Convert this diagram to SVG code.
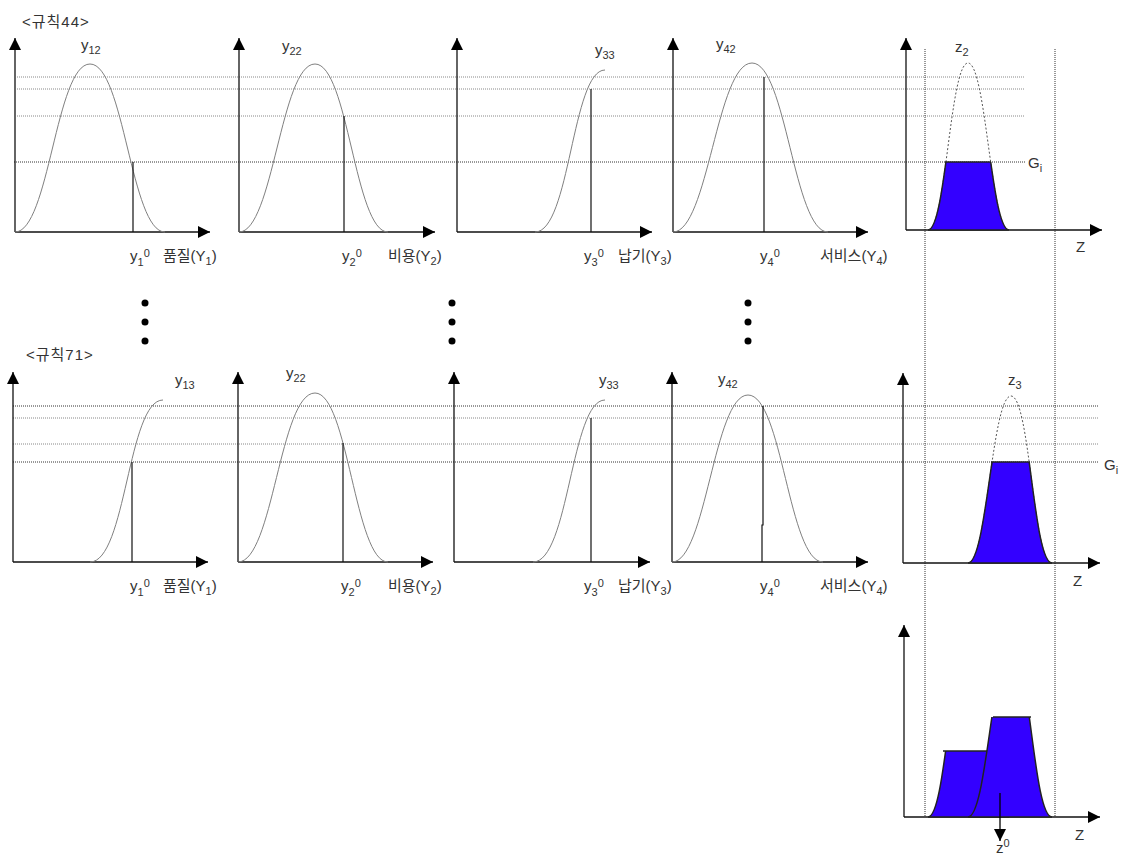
<svg xmlns="http://www.w3.org/2000/svg" width="1124" height="858" viewBox="0 0 1124 858">
<style>
.t{font-family:"Liberation Sans","Noto Sans CJK KR",sans-serif;font-size:15px;fill:#333}
.s{font-size:11px}
.h{letter-spacing:1px}
.ax{stroke:#111;stroke-width:1.3;fill:none;marker-end:url(#ah)}
.cv{stroke:#808080;stroke-width:1;fill:none}
.dc{stroke:#555;stroke-width:1;fill:none;stroke-dasharray:2 2}
.vl{stroke:#111;stroke-width:1.2}
.gd{stroke:#333;stroke-width:1;stroke-dasharray:1 1;fill:none}
.gl{stroke:#888;stroke-width:1;stroke-dasharray:1 1;fill:none}
.fz{fill:#3300ff;stroke:#222;stroke-width:1.5}
</style>
<defs>
<marker id="ah" viewBox="0 0 12 12" refX="12" refY="6" markerWidth="12" markerHeight="12" markerUnits="userSpaceOnUse" orient="auto"><path d="M0,0 L12,6 L0,12 z" fill="#000"/></marker>
<clipPath id="c1"><rect x="900" y="162" width="200" height="69"/></clipPath>
<clipPath id="c2"><rect x="900" y="462" width="200" height="102"/></clipPath>
<clipPath id="c3"><rect x="900" y="751" width="200" height="67"/></clipPath>
<clipPath id="c4"><rect x="900" y="717" width="200" height="101"/></clipPath>
</defs>

<g id="guides">
<line class="gl" x1="17" y1="77" x2="1025" y2="77"/>
<line class="gl" x1="17" y1="89" x2="1025" y2="89"/>
<line class="gl" x1="17" y1="116" x2="1025" y2="116"/>
<line class="gd" x1="14" y1="162" x2="1025" y2="162"/>
<line class="gd" x1="13" y1="406" x2="1099" y2="406"/>
<line class="gl" x1="13" y1="418" x2="1099" y2="418"/>
<line class="gl" x1="13" y1="444" x2="1099" y2="444"/>
<line class="gd" x1="13" y1="462" x2="1099" y2="462"/>
<line class="gd" x1="925" y1="49" x2="925" y2="817"/>
<line class="gd" x1="1055" y1="49" x2="1055" y2="817"/>
</g>

<text class="t h" x="22" y="27">&lt;규칙44&gt;</text>
<text class="t h" x="26" y="360">&lt;규칙71&gt;</text>

<g id="r1c1">
<path class="ax" d="M15,232 V38"/><path class="ax" d="M15,232 H210"/>
<path class="cv" d="M15,232 C49,232 56,64 90,64 C124,64 131,232 165,232"/>
<line class="vl" x1="133" y1="162" x2="133" y2="232"/>
<text class="t" x="81" y="50">y<tspan class="s" dy="4">12</tspan></text>
<text class="t" x="130" y="261">y<tspan class="s" dy="5">1</tspan><tspan class="s" dy="-9">0</tspan></text>
<text class="t" x="163" y="261">품질(Y<tspan class="s" dy="4">1</tspan><tspan dy="-4">)</tspan></text>
</g>

<g id="r1c2">
<path class="ax" d="M239,232 V38"/><path class="ax" d="M239,232 H435"/>
<path class="cv" d="M239,232 C273,232 281,64 315,64 C348,64 355,232 388,232"/>
<line class="vl" x1="344" y1="116" x2="344" y2="232"/>
<text class="t" x="282" y="51">y<tspan class="s" dy="4">22</tspan></text>
<text class="t" x="342" y="261">y<tspan class="s" dy="5">2</tspan><tspan class="s" dy="-9">0</tspan></text>
<text class="t" x="388" y="261">비용(Y<tspan class="s" dy="4">2</tspan><tspan dy="-4">)</tspan></text>
</g>

<g id="r1c3">
<path class="ax" d="M457,232 V38"/><path class="ax" d="M457,232 H652"/>
<path class="cv" d="M535,232 C570,232 572,70 605,70"/>
<line class="vl" x1="591" y1="89" x2="591" y2="232"/>
<text class="t" x="595" y="55">y<tspan class="s" dy="4">33</tspan></text>
<text class="t" x="584" y="261">y<tspan class="s" dy="5">3</tspan><tspan class="s" dy="-9">0</tspan></text>
<text class="t" x="618" y="261">납기(Y<tspan class="s" dy="4">3</tspan><tspan dy="-4">)</tspan></text>
</g>

<g id="r1c4">
<path class="ax" d="M673,232 V38"/><path class="ax" d="M673,232 H868"/>
<path class="cv" d="M673,232 C708,232 717,63 752,63 C786,63 794,232 828,232"/>
<line class="vl" x1="764" y1="77" x2="764" y2="232"/>
<text class="t" x="716" y="49">y<tspan class="s" dy="4">42</tspan></text>
<text class="t" x="760" y="261">y<tspan class="s" dy="5">4</tspan><tspan class="s" dy="-9">0</tspan></text>
<text class="t" x="820" y="261">서비스(Y<tspan class="s" dy="4">4</tspan><tspan dy="-4">)</tspan></text>
</g>

<g id="r1z">
<path class="ax" d="M906,230 V38"/><path class="ax" d="M906,230 H1102"/>
<path class="dc" d="M928,230 C946,230 950,63 968,63 C986,63 991,230 1009,230"/>
<g clip-path="url(#c1)"><path class="fz" d="M928,230 C946,230 950,63 968,63 C986,63 991,230 1009,230 Z"/></g>
<line stroke="#222" stroke-width="1.5" x1="945" y1="162" x2="991" y2="162"/>
<text class="t" x="955" y="52">z<tspan class="s" dy="4">2</tspan></text>
<text class="t" x="1028" y="168">G<tspan class="s" dy="4">i</tspan></text>
<text class="t" x="1076" y="252">Z</text>
</g>

<g id="dots" fill="#000">
<circle cx="145" cy="303" r="3.5"/><circle cx="145" cy="322" r="3.5"/><circle cx="145" cy="341" r="3.5"/>
<circle cx="452" cy="303" r="3.5"/><circle cx="452" cy="322" r="3.5"/><circle cx="452" cy="341" r="3.5"/>
<circle cx="748" cy="303" r="3.5"/><circle cx="748" cy="322" r="3.5"/><circle cx="748" cy="341" r="3.5"/>
</g>

<g id="r2c1">
<path class="ax" d="M13,562 V372"/><path class="ax" d="M13,562 H208"/>
<path class="cv" d="M90,562 C126,562 128,400 163,400"/>
<line class="vl" x1="132" y1="462" x2="132" y2="562"/>
<text class="t" x="175" y="385">y<tspan class="s" dy="4">13</tspan></text>
<text class="t" x="130" y="591">y<tspan class="s" dy="5">1</tspan><tspan class="s" dy="-9">0</tspan></text>
<text class="t" x="163" y="591">품질(Y<tspan class="s" dy="4">1</tspan><tspan dy="-4">)</tspan></text>
</g>

<g id="r2c2">
<path class="ax" d="M238,562 V372"/><path class="ax" d="M238,562 H433"/>
<path class="cv" d="M238,562 C273,562 280,393 315,393 C348,393 355,562 388,562"/>
<line class="vl" x1="343" y1="443" x2="343" y2="562"/>
<text class="t" x="286" y="378">y<tspan class="s" dy="4">22</tspan></text>
<text class="t" x="341" y="591">y<tspan class="s" dy="5">2</tspan><tspan class="s" dy="-9">0</tspan></text>
<text class="t" x="388" y="591">비용(Y<tspan class="s" dy="4">2</tspan><tspan dy="-4">)</tspan></text>
</g>

<g id="r2c3">
<path class="ax" d="M454,562 V372"/><path class="ax" d="M454,562 H650"/>
<path class="cv" d="M533,562 C569,562 571,400 605,400"/>
<line class="vl" x1="591" y1="418" x2="591" y2="562"/>
<text class="t" x="599" y="385">y<tspan class="s" dy="4">33</tspan></text>
<text class="t" x="584" y="591">y<tspan class="s" dy="5">3</tspan><tspan class="s" dy="-9">0</tspan></text>
<text class="t" x="618" y="591">납기(Y<tspan class="s" dy="4">3</tspan><tspan dy="-4">)</tspan></text>
</g>

<g id="r2c4">
<path class="ax" d="M672,562 V372"/><path class="ax" d="M672,562 H868"/>
<path class="cv" d="M672,562 C706,562 714,395 748,395 C782,395 789,562 823,562"/>
<polyline class="vl" fill="none" points="763,406 763,525 762,525 762,562"/>
<text class="t" x="718" y="384">y<tspan class="s" dy="4">42</tspan></text>
<text class="t" x="760" y="591">y<tspan class="s" dy="5">4</tspan><tspan class="s" dy="-9">0</tspan></text>
<text class="t" x="820" y="591">서비스(Y<tspan class="s" dy="4">4</tspan><tspan dy="-4">)</tspan></text>
</g>

<g id="r2z">
<path class="ax" d="M903,563 V373"/><path class="ax" d="M903,563 H1100"/>
<path class="dc" d="M968,563 C987,563 992,396 1011,396 C1030,396 1033,563 1052,563"/>
<g clip-path="url(#c2)"><path class="fz" d="M968,563 C987,563 992,396 1011,396 C1030,396 1033,563 1052,563 Z"/></g>
<line stroke="#222" stroke-width="1.5" x1="991" y1="462" x2="1030" y2="462"/>
<text class="t" x="1008" y="385">z<tspan class="s" dy="4">3</tspan></text>
<text class="t" x="1104" y="470">G<tspan class="s" dy="4">i</tspan></text>
<text class="t" x="1073" y="586">Z</text>
</g>

<g id="result">
<path class="ax" d="M904,817 V625"/><path class="ax" d="M904,817 H1100"/>
<g clip-path="url(#c3)"><path class="fz" d="M928,817 C946,817 950,650 968,650 C986,650 991,817 1009,817 Z"/></g>
<line stroke="#222" stroke-width="1.5" x1="943" y1="751" x2="990" y2="751"/>
<g clip-path="url(#c4)"><path class="fz" d="M968,817 C987,817 992,650 1011,650 C1030,650 1033,817 1052,817 Z"/></g>
<line stroke="#222" stroke-width="1.5" x1="993" y1="717" x2="1031" y2="717"/>
<path d="M1000,793 V841" stroke="#000" stroke-width="1.3" fill="none" marker-end="url(#ah)"/>
<text class="t" x="996" y="853">z<tspan class="s" dy="-6">0</tspan></text>
<text class="t" x="1075" y="840">Z</text>
</g>
</svg>
